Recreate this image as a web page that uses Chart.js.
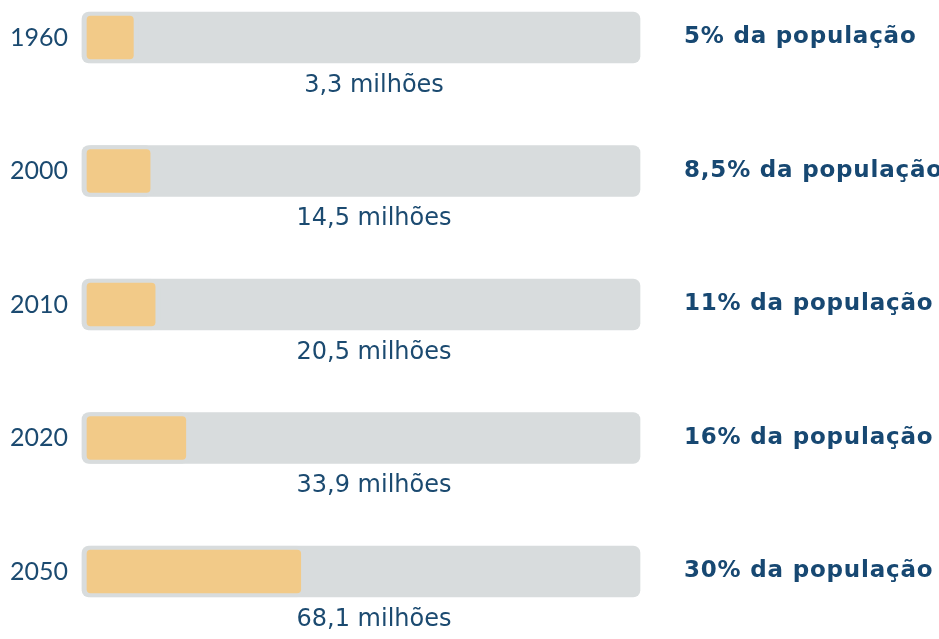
<!DOCTYPE html>
<html>
<head>
<meta charset="utf-8">
<script src="https://cdn.jsdelivr.net/npm/chart.js@4.4.1/dist/chart.umd.min.js"></script>
<style>
  html, body { margin: 0; padding: 0; background: #ffffff; }
  #wrap { position: relative; width: 939px; height: 639px; }
</style>
</head>
<body>
<div id="wrap"><canvas id="c" width="939" height="639"></canvas></div>
<script>
// ---- Data ----
const years = ['1960', '2000', '2010', '2020', '2050'];
const millionsLabels = ['3,3 milhões', '14,5 milhões', '20,5 milhões', '33,9 milhões', '68,1 milhões'];
const percentLabels = ['5% da população', '8,5% da população', '11% da população', '16% da população', '30% da população'];
// bar length (share of the grey track, 0-100)
const barLength = [10.1, 13.1, 14.0, 19.5, 40.1];
const trackLength = [100, 100, 100, 100, 100];

const TEXT = '#1b4a70';
const BOLD_TEXT = '#174872';
const FONT = "'DejaVu Sans', sans-serif";
const YEAR_FONT = "'Lato', 'DejaVu Sans', sans-serif";

const sideLabels = {
  id: 'sideLabels',
  afterDatasetsDraw(chart) {
    const ctx = chart.ctx;
    const y = chart.scales.y;
    const x = chart.scales.x;
    const cx = (x.getPixelForValue(0) + x.getPixelForValue(100)) / 2 + 13;
    ctx.save();
    years.forEach((yr, i) => {
      const py = y.getPixelForValue(i);
      ctx.textBaseline = 'middle';
      ctx.textAlign = 'center';
      ctx.fillStyle = TEXT;
      ctx.letterSpacing = '0px';
      ctx.font = "24px " + FONT;
      ctx.fillText(millionsLabels[i], cx, py + 48);
      ctx.textAlign = 'left';
      ctx.fillStyle = BOLD_TEXT;
      ctx.letterSpacing = '0.8px';
      ctx.font = "bold 23px " + FONT;
      ctx.fillText(percentLabels[i], x.right + 44, py);
    });
    ctx.restore();
  }
};

new Chart(document.getElementById('c'), {
  type: 'bar',
  data: {
    labels: years,
    datasets: [
      {
        label: 'fill',
        data: barLength,
        backgroundColor: '#f2ca88',
        borderColor: '#d8dcdd',
        borderWidth: { top: 4, bottom: 4, left: 5, right: 5 },
        borderSkipped: false,
        borderRadius: 9,
        barThickness: 51,
        clip: false,
        order: 0
      },
      {
        label: 'track',
        data: trackLength,
        backgroundColor: '#d8dcdd',
        borderWidth: 0,
        borderSkipped: false,
        borderRadius: 7,
        barThickness: 51,
        clip: false,
        order: 1
      }
    ]
  },
  options: {
    indexAxis: 'y',
    responsive: false,
    animation: false,
    layout: { padding: { top: 37.5, bottom: 639 - 571.5, left: 0, right: 299 } },
    plugins: { legend: { display: false }, tooltip: { enabled: false } },
    datasets: { bar: { grouped: false } },
    scales: {
      x: {
        min: 0, max: 100,
        display: false,
        grid: { display: false }
      },
      y: {
        offset: false,
        grid: { display: false },
        border: { display: false },
        afterFit(scale) { scale.width = 82; },
        ticks: {
          color: TEXT,
          padding: 6,
          font: { family: YEAR_FONT, size: 25 }
        }
      }
    }
  },
  plugins: [sideLabels]
});
</script>
</body>
</html>
